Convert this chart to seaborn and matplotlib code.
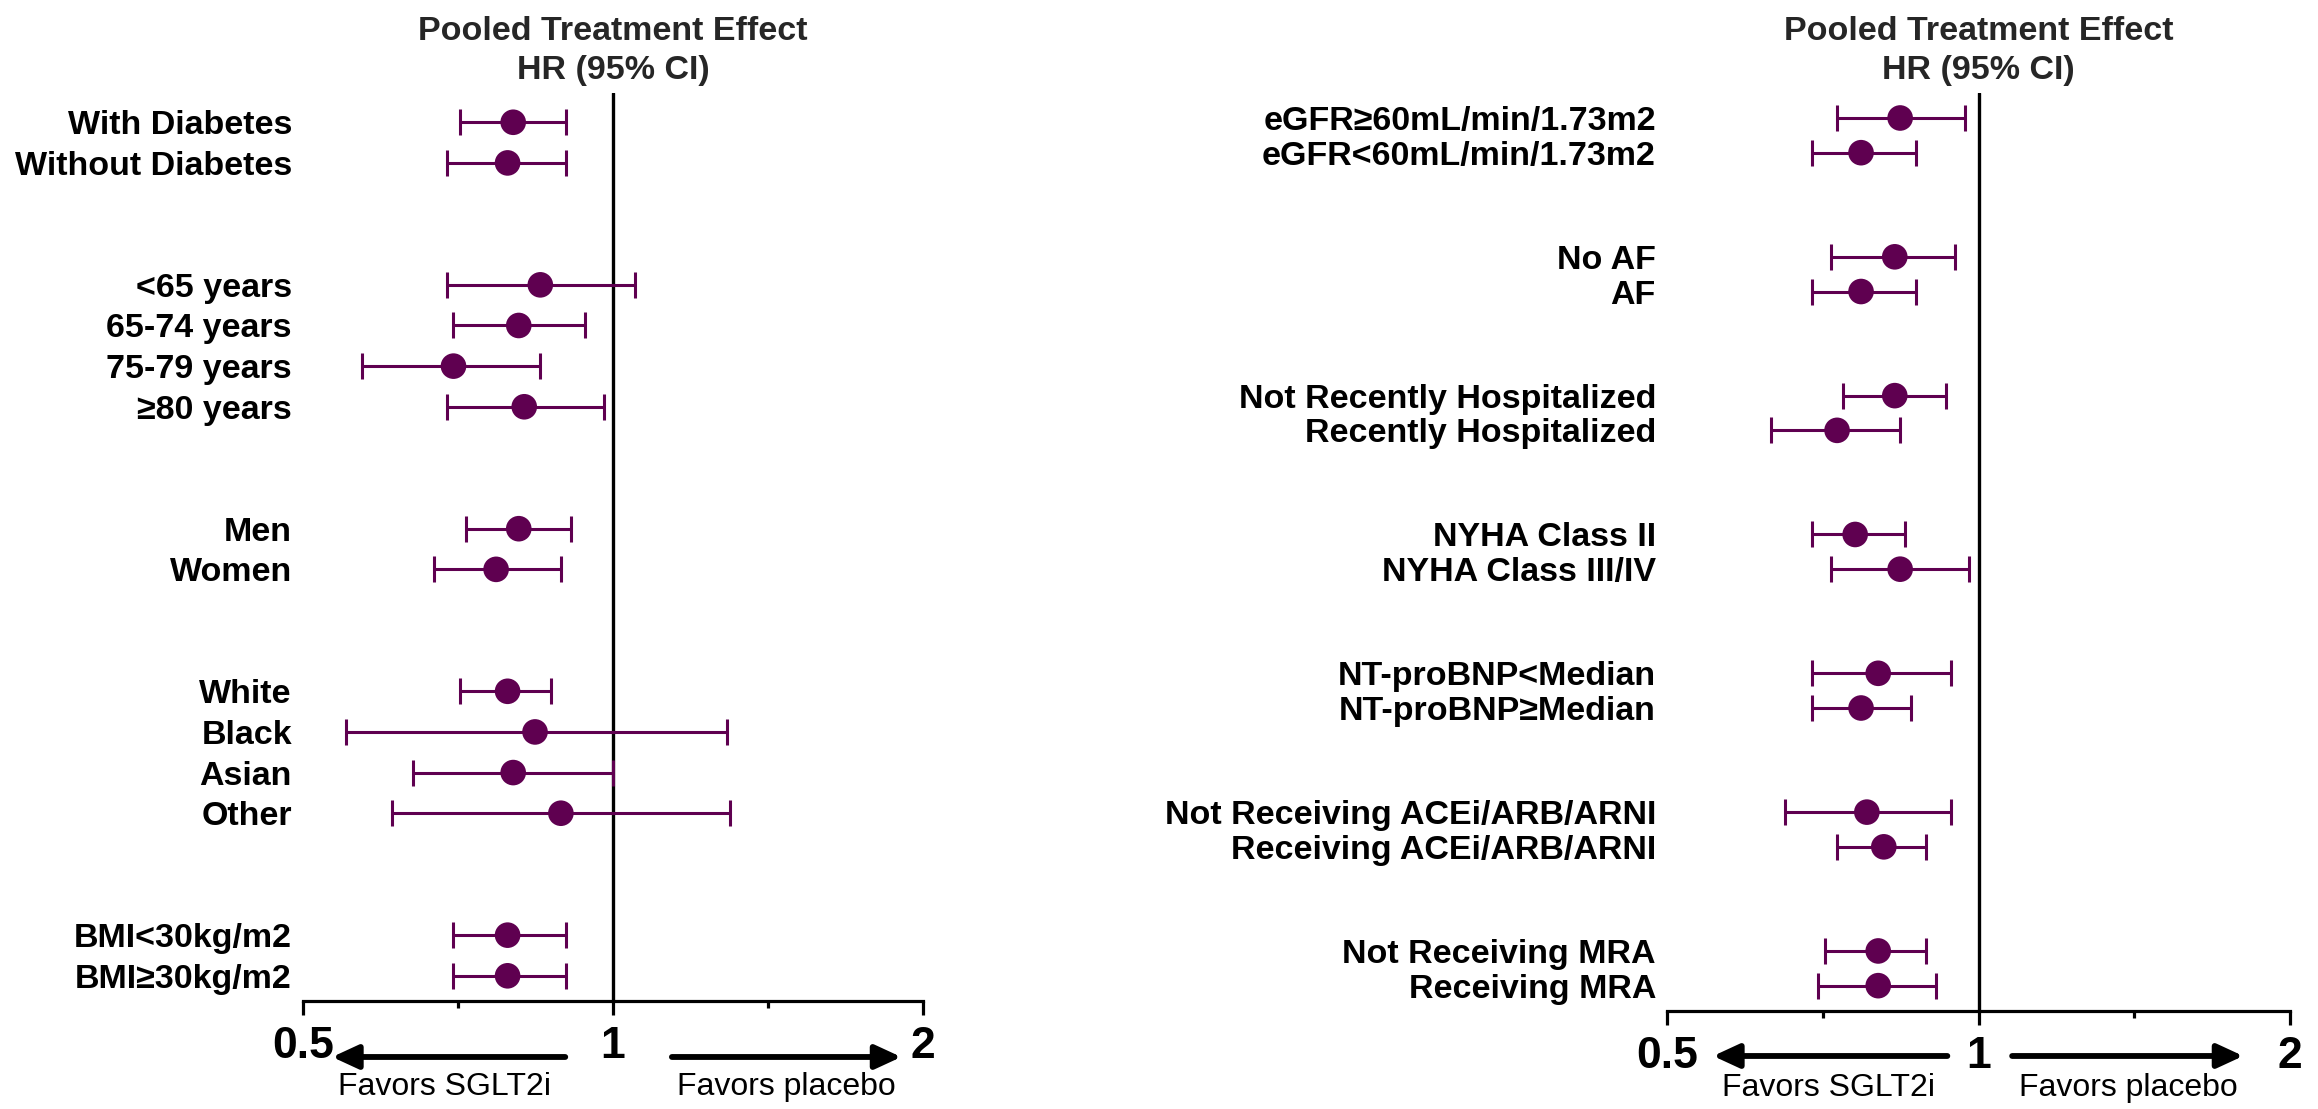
import matplotlib
matplotlib.use("Agg")
import matplotlib.pyplot as plt
from matplotlib.ticker import FixedLocator, FixedFormatter, NullFormatter
import seaborn as sns
import pandas as pd

# ---------------- data ----------------
left_labels = ["With Diabetes", "Without Diabetes",
               "<65 years", "65-74 years", "75-79 years", "≥80 years",
               "Men", "Women",
               "White", "Black", "Asian", "Other",
               "BMI<30kg/m2", "BMI≥30kg/m2"]
left_group = [0, 0, 1, 1, 1, 1, 2, 2, 3, 3, 3, 3, 4, 4]
left_hr = [0.80, 0.79, 0.85, 0.81, 0.70, 0.82, 0.81, 0.77, 0.79, 0.84, 0.80, 0.89, 0.79, 0.79]
left_lo = [0.71, 0.69, 0.69, 0.70, 0.57, 0.69, 0.72, 0.67, 0.71, 0.55, 0.64, 0.61, 0.70, 0.70]
left_hi = [0.90, 0.90, 1.05, 0.94, 0.85, 0.98, 0.91, 0.89, 0.87, 1.29, 1.00, 1.30, 0.90, 0.90]

right_labels = ["eGFR≥60mL/min/1.73m2", "eGFR<60mL/min/1.73m2",
                "No AF", "AF",
                "Not Recently Hospitalized", "Recently Hospitalized",
                "NYHA Class II", "NYHA Class III/IV",
                "NT-proBNP<Median", "NT-proBNP≥Median",
                "Not Receiving ACEi/ARB/ARNI", "Receiving ACEi/ARB/ARNI",
                "Not Receiving MRA", "Receiving MRA"]
right_group = [0, 0, 1, 1, 2, 2, 3, 3, 4, 4, 5, 5, 6, 6]
right_hr = [0.84, 0.77, 0.83, 0.77, 0.83, 0.73, 0.76, 0.84, 0.80, 0.77, 0.78, 0.81, 0.80, 0.80]
right_lo = [0.73, 0.69, 0.72, 0.69, 0.74, 0.63, 0.69, 0.72, 0.69, 0.69, 0.65, 0.73, 0.71, 0.70]
right_hi = [0.97, 0.87, 0.95, 0.87, 0.93, 0.84, 0.85, 0.98, 0.94, 0.86, 0.94, 0.89, 0.89, 0.91]

x_ticks = [0.5, 1, 2]
x_ticklabels = ["0.5", "1", "2"]
x_minor = [0.7071, 1.4142]
title_text = "Pooled Treatment Effect\nHR (95% CI)"
favors_left = "Favors SGLT2i"
favors_right = "Favors placebo"

# ---------------- style ----------------
sns.set_theme(style="white")
plt.rcParams["font.family"] = ["Liberation Sans", "DejaVu Sans"]

PURPLE = "#5f0050"
W, H = 2318, 1109
fig = plt.figure(figsize=(W / 100, H / 100), dpi=100)


def panel(rect, labels, groups, hr, lo, hi, ylim, arrows, texts):
    ax = fig.add_axes(rect)
    rows = [i + 2 * g for i, g in enumerate(groups)]
    df = pd.DataFrame({"label": labels, "row": rows, "hr": hr, "lo": lo, "hi": hi})
    ax.set_xscale("log")
    ax.errorbar(df["hr"], df["row"],
                xerr=[df["hr"] - df["lo"], df["hi"] - df["hr"]],
                fmt="none", ecolor=PURPLE, elinewidth=2.2, capsize=9.5, capthick=2.2, zorder=2)
    sns.scatterplot(data=df, x="hr", y="row", ax=ax, color=PURPLE, s=340,
                    edgecolor="none", zorder=3, legend=False)
    ax.axvline(1, color="black", lw=2.4, zorder=1)
    ax.set_xlim(0.5, 2)
    ax.set_ylim(*ylim)
    ax.xaxis.set_major_locator(FixedLocator(x_ticks))
    ax.xaxis.set_major_formatter(FixedFormatter(x_ticklabels))
    ax.xaxis.set_minor_locator(FixedLocator(x_minor))
    ax.xaxis.set_minor_formatter(NullFormatter())
    ax.tick_params(axis="x", which="major", length=10, width=2.3, pad=8,
                   labelsize=32, bottom=True, color="black", labelcolor="black")
    ax.tick_params(axis="x", which="minor", length=5, width=2.3, bottom=True, color="black")
    for t in ax.get_xticklabels():
        t.set_fontweight("bold")
    ax.set_yticks(df["row"])
    ax.set_yticklabels(df["label"], fontsize=24.5, fontweight="bold")
    ax.tick_params(axis="y", length=0, pad=8, labelcolor="black")
    for s in ["top", "right", "left"]:
        ax.spines[s].set_visible(False)
    ax.spines["bottom"].set_linewidth(2.3)
    ax.spines["bottom"].set_color("black")
    ax.set_xlabel("")
    ax.set_ylabel("")
    ax.grid(False)
    ax.set_title(title_text, fontsize=24.5, fontweight="bold", pad=10, linespacing=1.33)
    ay = arrows[0]
    for (x0, x1) in arrows[1:]:
        ax.annotate("", xy=(x1, ay), xytext=(x0, ay),
                    xycoords=("axes fraction", "figure fraction"),
                    textcoords=("axes fraction", "figure fraction"),
                    arrowprops=dict(arrowstyle="-|>,head_length=1.3,head_width=0.6",
                                    lw=4.2, color="black", shrinkA=0, shrinkB=0),
                    annotation_clip=False)
    ty = texts[0]
    for (tx, s) in texts[1:]:
        ax.annotate(s, xy=(tx, ty), xycoords=("axes fraction", "figure fraction"),
                    ha="center", va="center", fontsize=23, color="black",
                    annotation_clip=False)
    return ax


panel([303 / W, 108 / H, 620 / W, 908 / H], left_labels, left_group,
      left_hr, left_lo, left_hi, (21.62, -0.72),
      [0.0469, (0.423, 0.047), (0.595, 0.965)],
      [0.0198, (0.228, favors_left), (0.78, favors_right)])

panel([1667 / W, 98 / H, 623 / W, 918 / H], right_labels, right_group,
      right_hr, right_lo, right_hi, (25.73, -0.72),
      [0.0478, (0.45, 0.074), (0.554, 0.925)],
      [0.019, (0.26, favors_left), (0.74, favors_right)])

fig.savefig("out.png", dpi=100, facecolor="white")
